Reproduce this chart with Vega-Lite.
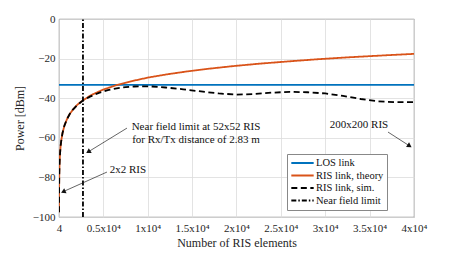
{
  "$schema": "https://vega.github.io/schema/vega-lite/v6.json",
  "autosize": {"type": "none"},
  "padding": {"left": 59, "top": 19, "right": 43, "bottom": 36},
  "width": 355,
  "height": 198,
  "config": {
    "font": "Liberation Serif",
    "view": {"stroke": "#555", "strokeWidth": 0.8},
    "axis": {
      "domain": false,
      "ticks": false,
      "gridColor": "#dcdcdc",
      "gridWidth": 0.8,
      "labelOverlap": false,
      "labelFlush": false,
      "labelBound": false,
      "labelFont": "Liberation Serif",
      "labelFontSize": 11,
      "labelColor": "#262626",
      "titleFont": "Liberation Serif",
      "titleFontSize": 12,
      "titleFontWeight": "normal",
      "titleColor": "#262626"
    }
  },
  "datasets": {
    "lines": [
      {"N": 4, "P": -33.3, "series": "LOS link", "i": 0},
      {"N": 40000, "P": -33.3, "series": "LOS link", "i": 1},
      {"N": 4, "P": -97.6, "series": "RIS link, theory", "i": 0},
      {"N": 16, "P": -85.6, "series": "RIS link, theory", "i": 1},
      {"N": 36, "P": -78.5, "series": "RIS link, theory", "i": 2},
      {"N": 64, "P": -73.5, "series": "RIS link, theory", "i": 3},
      {"N": 100, "P": -69.6, "series": "RIS link, theory", "i": 4},
      {"N": 144, "P": -66.5, "series": "RIS link, theory", "i": 5},
      {"N": 196, "P": -63.8, "series": "RIS link, theory", "i": 6},
      {"N": 256, "P": -61.5, "series": "RIS link, theory", "i": 7},
      {"N": 400, "P": -57.6, "series": "RIS link, theory", "i": 8},
      {"N": 625, "P": -53.7, "series": "RIS link, theory", "i": 9},
      {"N": 900, "P": -50.6, "series": "RIS link, theory", "i": 10},
      {"N": 1225, "P": -47.9, "series": "RIS link, theory", "i": 11},
      {"N": 1600, "P": -45.6, "series": "RIS link, theory", "i": 12},
      {"N": 2025, "P": -43.5, "series": "RIS link, theory", "i": 13},
      {"N": 2500, "P": -41.7, "series": "RIS link, theory", "i": 14},
      {"N": 3600, "P": -38.5, "series": "RIS link, theory", "i": 15},
      {"N": 4900, "P": -35.8, "series": "RIS link, theory", "i": 16},
      {"N": 6400, "P": -33.5, "series": "RIS link, theory", "i": 17},
      {"N": 8100, "P": -31.5, "series": "RIS link, theory", "i": 18},
      {"N": 10000, "P": -29.6, "series": "RIS link, theory", "i": 19},
      {"N": 12100, "P": -28.0, "series": "RIS link, theory", "i": 20},
      {"N": 14400, "P": -26.5, "series": "RIS link, theory", "i": 21},
      {"N": 16900, "P": -25.1, "series": "RIS link, theory", "i": 22},
      {"N": 19600, "P": -23.8, "series": "RIS link, theory", "i": 23},
      {"N": 22500, "P": -22.6, "series": "RIS link, theory", "i": 24},
      {"N": 25600, "P": -21.5, "series": "RIS link, theory", "i": 25},
      {"N": 28900, "P": -20.4, "series": "RIS link, theory", "i": 26},
      {"N": 32400, "P": -19.4, "series": "RIS link, theory", "i": 27},
      {"N": 36100, "P": -18.5, "series": "RIS link, theory", "i": 28},
      {"N": 40000, "P": -17.6, "series": "RIS link, theory", "i": 29},
      {"N": 4, "P": -97.6, "series": "RIS link, sim.", "i": 0},
      {"N": 16, "P": -85.6, "series": "RIS link, sim.", "i": 1},
      {"N": 36, "P": -78.5, "series": "RIS link, sim.", "i": 2},
      {"N": 64, "P": -73.5, "series": "RIS link, sim.", "i": 3},
      {"N": 100, "P": -69.6, "series": "RIS link, sim.", "i": 4},
      {"N": 144, "P": -66.5, "series": "RIS link, sim.", "i": 5},
      {"N": 196, "P": -63.8, "series": "RIS link, sim.", "i": 6},
      {"N": 256, "P": -61.5, "series": "RIS link, sim.", "i": 7},
      {"N": 400, "P": -57.6, "series": "RIS link, sim.", "i": 8},
      {"N": 625, "P": -53.7, "series": "RIS link, sim.", "i": 9},
      {"N": 900, "P": -50.6, "series": "RIS link, sim.", "i": 10},
      {"N": 1225, "P": -47.9, "series": "RIS link, sim.", "i": 11},
      {"N": 1600, "P": -45.6, "series": "RIS link, sim.", "i": 12},
      {"N": 2025, "P": -43.6, "series": "RIS link, sim.", "i": 13},
      {"N": 2704, "P": -41.2, "series": "RIS link, sim.", "i": 14},
      {"N": 3500, "P": -39.2, "series": "RIS link, sim.", "i": 15},
      {"N": 4500, "P": -37.3, "series": "RIS link, sim.", "i": 16},
      {"N": 5500, "P": -35.9, "series": "RIS link, sim.", "i": 17},
      {"N": 6500, "P": -35.0, "series": "RIS link, sim.", "i": 18},
      {"N": 7500, "P": -34.4, "series": "RIS link, sim.", "i": 19},
      {"N": 8500, "P": -34.1, "series": "RIS link, sim.", "i": 20},
      {"N": 9500, "P": -34.0, "series": "RIS link, sim.", "i": 21},
      {"N": 10500, "P": -34.1, "series": "RIS link, sim.", "i": 22},
      {"N": 12000, "P": -34.6, "series": "RIS link, sim.", "i": 23},
      {"N": 14000, "P": -35.5, "series": "RIS link, sim.", "i": 24},
      {"N": 16000, "P": -36.6, "series": "RIS link, sim.", "i": 25},
      {"N": 18000, "P": -37.6, "series": "RIS link, sim.", "i": 26},
      {"N": 20000, "P": -38.2, "series": "RIS link, sim.", "i": 27},
      {"N": 22000, "P": -37.9, "series": "RIS link, sim.", "i": 28},
      {"N": 24000, "P": -37.2, "series": "RIS link, sim.", "i": 29},
      {"N": 26000, "P": -36.8, "series": "RIS link, sim.", "i": 30},
      {"N": 28000, "P": -37.0, "series": "RIS link, sim.", "i": 31},
      {"N": 30000, "P": -37.6, "series": "RIS link, sim.", "i": 32},
      {"N": 32000, "P": -38.8, "series": "RIS link, sim.", "i": 33},
      {"N": 34000, "P": -40.4, "series": "RIS link, sim.", "i": 34},
      {"N": 36000, "P": -41.6, "series": "RIS link, sim.", "i": 35},
      {"N": 38000, "P": -42.0, "series": "RIS link, sim.", "i": 36},
      {"N": 40000, "P": -42.0, "series": "RIS link, sim.", "i": 37},
      {"N": 2704, "P": -100, "series": "Near field limit", "i": 0},
      {"N": 2704, "P": 0, "series": "Near field limit", "i": 1}
    ],
    "arrows": [
      {"N": 7662, "P": -55.1, "N2": 3300, "P2": -67.1, "ang": 238},
      {"N": 5408, "P": -77.3, "N2": 480, "P2": -87.2, "ang": 245},
      {"N": 37070, "P": -57.1, "N2": 39500, "P2": -64.1, "ang": 123}
    ],
    "labels": [
      {"N": 15437, "P": -54.5, "t": "Near field limit at 52x52 RIS"},
      {"N": 15437, "P": -61.1, "t": "for Rx/Tx distance of 2.83 m"},
      {"N": 7775, "P": -76.3, "t": "2x2 RIS"},
      {"N": 33803, "P": -53.5, "t": "200x200 RIS"}
    ]
  },
  "encoding": {
    "x": {
      "field": "N", "type": "quantitative",
      "scale": {"domain": [4, 40000], "nice": false, "zero": false},
      "axis": {
        "title": "Number of RIS elements",
        "values": [4, 5000, 10000, 15000, 20000, 25000, 30000, 35000, 40000],
        "labelExpr": "datum.value == 4 ? '4' : format(datum.value / 10000, '') + 'x10⁴'",
        "labelPadding": 5,
        "titlePadding": 4
      }
    },
    "y": {
      "field": "P", "type": "quantitative",
      "scale": {"domain": [-100, 0], "nice": false, "zero": false},
      "axis": {"title": "Power [dBm]", "values": [-100, -80, -60, -40, -20, 0], "tickCount": 6, "labelPadding": 4, "titlePadding": 6}
    }
  },
  "layer": [
    {
      "data": {"name": "lines"},
      "mark": {"type": "line", "strokeWidth": 1.8, "clip": true},
      "encoding": {
        "color": {
          "field": "series", "type": "nominal",
          "scale": {
            "domain": ["LOS link", "RIS link, theory", "RIS link, sim.", "Near field limit"],
            "range": ["#0072BD", "#D95319", "#000000", "#000000"]
          },
          "legend": {
            "title": null,
            "orient": "none",
            "legendX": 228,
            "legendY": 135,
            "symbolType": "stroke",
            "symbolSize": 500,
            "symbolStrokeWidth": 1.8,
            "clipHeight": 12,
            "rowPadding": 0.5,
            "labelFont": "Liberation Serif",
            "labelFontSize": 10.5,
            "labelColor": "#111",
            "labelOffset": 1,
            "strokeColor": "#888",
            "fillColor": "white",
            "padding": 3
          }
        },
        "strokeDash": {
          "field": "series", "type": "nominal",
          "scale": {
            "domain": ["LOS link", "RIS link, theory", "RIS link, sim.", "Near field limit"],
            "range": [[1, 0], [1, 0], [6, 3.5], [5, 2, 1.5, 2]]
          }
        },
        "order": {"field": "i", "type": "quantitative"}
      }
    },
    {
      "data": {"name": "arrows"},
      "mark": {"type": "rule", "color": "#222", "strokeWidth": 0.7},
      "encoding": {
        "x2": {"field": "N2"},
        "y2": {"field": "P2"}
      }
    },
    {
      "data": {"name": "arrows"},
      "mark": {"type": "point", "shape": "triangle-up", "filled": true, "color": "#111", "size": 30, "opacity": 1},
      "encoding": {
        "x": {"field": "N2", "type": "quantitative"},
        "y": {"field": "P2", "type": "quantitative"},
        "angle": {"field": "ang", "type": "quantitative", "scale": null}
      }
    },
    {
      "data": {"name": "labels"},
      "mark": {"type": "text", "font": "Liberation Serif", "fontSize": 11, "color": "#111", "align": "center", "baseline": "middle"},
      "encoding": {
        "text": {"field": "t", "type": "nominal"}
      }
    }
  ]
}
